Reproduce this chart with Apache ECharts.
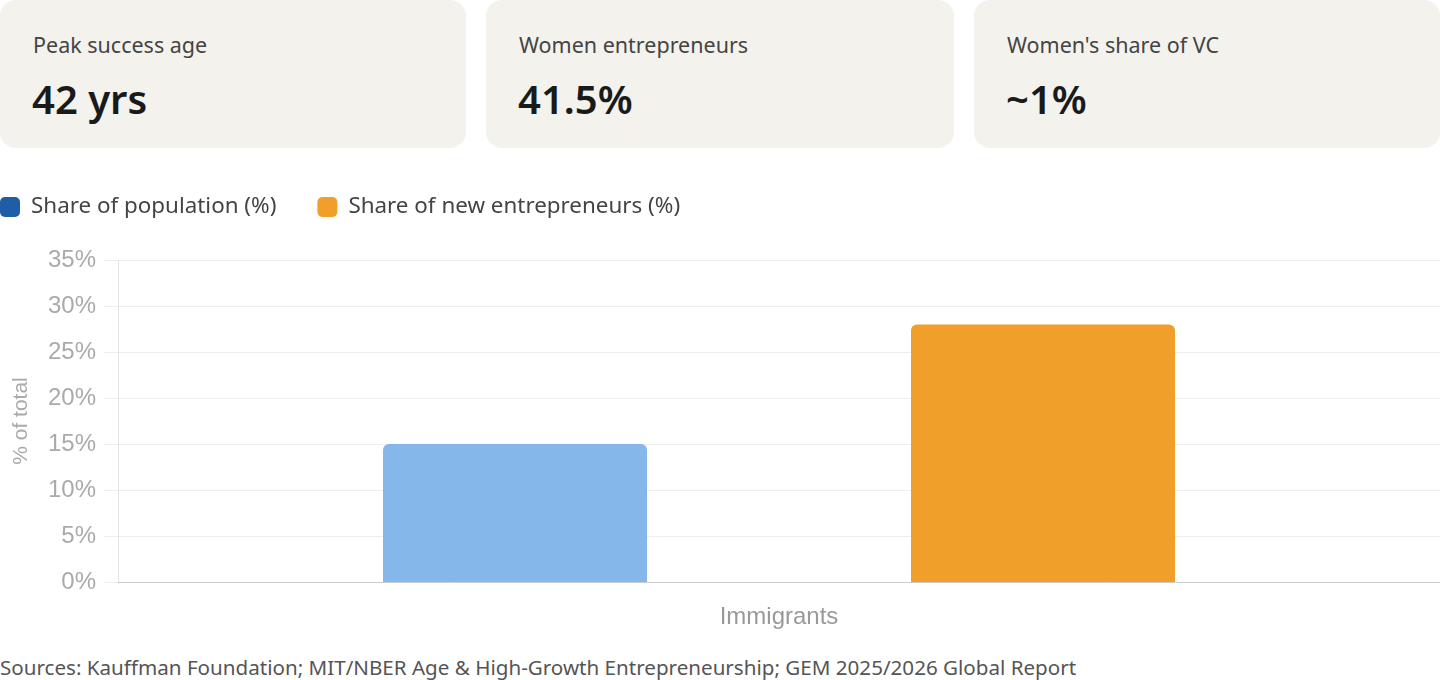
<!DOCTYPE html>
<html>
<head>
<meta charset="utf-8">
<script src="https://cdn.jsdelivr.net/npm/echarts@6/dist/echarts.min.js"></script>
<style>
  html, body { margin: 0; padding: 0; background: #fff; }
  body { width: 1440px; height: 680px; position: relative; overflow: hidden; font-family: "Noto Sans", "Open Sans", sans-serif; }
  .card {
    position: absolute; top: 0; height: 148px;
    background: #f3f2ed; border-radius: 16px;
  }
  .card .label { position: absolute; left: 33px; top: 30px; font-size: 21.5px; color: #444; }
  .card .value { position: absolute; left: 32px; top: 71px; font-size: 40px; font-weight: 600; color: #1a1a1a; }
  #chart { position: absolute; left: 0; top: 180px; width: 1440px; height: 460px; }
  .source { position: absolute; left: 0; top: 653px; font-size: 20.6px; color: #555; white-space: nowrap; }
</style>
</head>
<body>
<div id="cards"></div>
<div id="chart"></div>
<div class="source">Sources: Kauffman Foundation; MIT/NBER Age &amp; High-Growth Entrepreneurship; GEM 2025/2026 Global Report</div>
<script>
// stat cards
const cardLabels = ['Peak success age', 'Women entrepreneurs', "Women's share of VC"]
const cardValues = ['42 yrs', '41.5%', '~1%']
const cardLefts = [0, 486, 974]

// chart data
const categories = ['Immigrants']
const seriesNames = ['Share of population (%)', 'Share of new entrepreneurs (%)']
const populationShare = [15]
const entrepreneurShare = [28]

const cardsEl = document.getElementById('cards')
cardLabels.forEach((lab, i) => {
  const c = document.createElement('div')
  c.className = 'card'
  c.style.left = cardLefts[i] + 'px'
  c.style.width = (i === 1 ? 468 : 466) + 'px'
  c.innerHTML = '<div class="label">' + lab + '</div><div class="value">' + cardValues[i] + '</div>'
  cardsEl.appendChild(c)
})

const myChart = echarts.init(document.getElementById('chart'))
const axisFont = 'Liberation Sans, Arial, sans-serif'
const option = {
  animation: false,
  legend: {
    left: 0,
    top: 16,
    padding: 0,
    itemWidth: 20,
    itemHeight: 20,
    itemGap: 41,
    icon: 'roundRect',
    textStyle: { fontSize: 22.4, color: '#444', fontFamily: 'Noto Sans', padding: [0, 0, 0, 6] },
    data: [
      { name: seriesNames[0], itemStyle: { color: '#1f5ea6' } },
      { name: seriesNames[1], itemStyle: { color: '#ef9f2a' } }
    ]
  },
  grid: {
    left: 118,
    right: 0,
    top: 80,
    bottom: 58,
    containLabel: false
  },
  xAxis: {
    type: 'category',
    data: categories,
    axisLine: { lineStyle: { color: '#ccc' } },
    axisTick: { show: false },
    axisLabel: { fontSize: 24, color: '#999', margin: 23, fontFamily: axisFont }
  },
  yAxis: {
    type: 'value',
    min: 0,
    max: 35,
    interval: 5,
    name: '% of total',
    nameLocation: 'middle',
    nameGap: 86,
    nameTextStyle: { fontSize: 21, color: '#aaa', fontFamily: axisFont },
    axisLine: { show: true, lineStyle: { color: '#e6e6e6' } },
    axisTick: { show: true, length: 14, lineStyle: { color: '#eee' } },
    axisLabel: { fontSize: 24, color: '#aaa', margin: 22, fontFamily: axisFont, formatter: '{value}%' },
    splitLine: { lineStyle: { color: '#eee' } }
  },
  series: [
    {
      name: seriesNames[0],
      type: 'bar',
      data: populationShare,
      barWidth: 264,
      barGap: '100%',
      itemStyle: { color: '#86b7ea', borderRadius: [6, 6, 0, 0] }
    },
    {
      name: seriesNames[1],
      type: 'bar',
      data: entrepreneurShare,
      barWidth: 264,
      barGap: '100%',
      itemStyle: { color: '#ef9f2a', borderRadius: [6, 6, 0, 0] }
    }
  ]
}
myChart.setOption(option)
</script>
</body>
</html>
